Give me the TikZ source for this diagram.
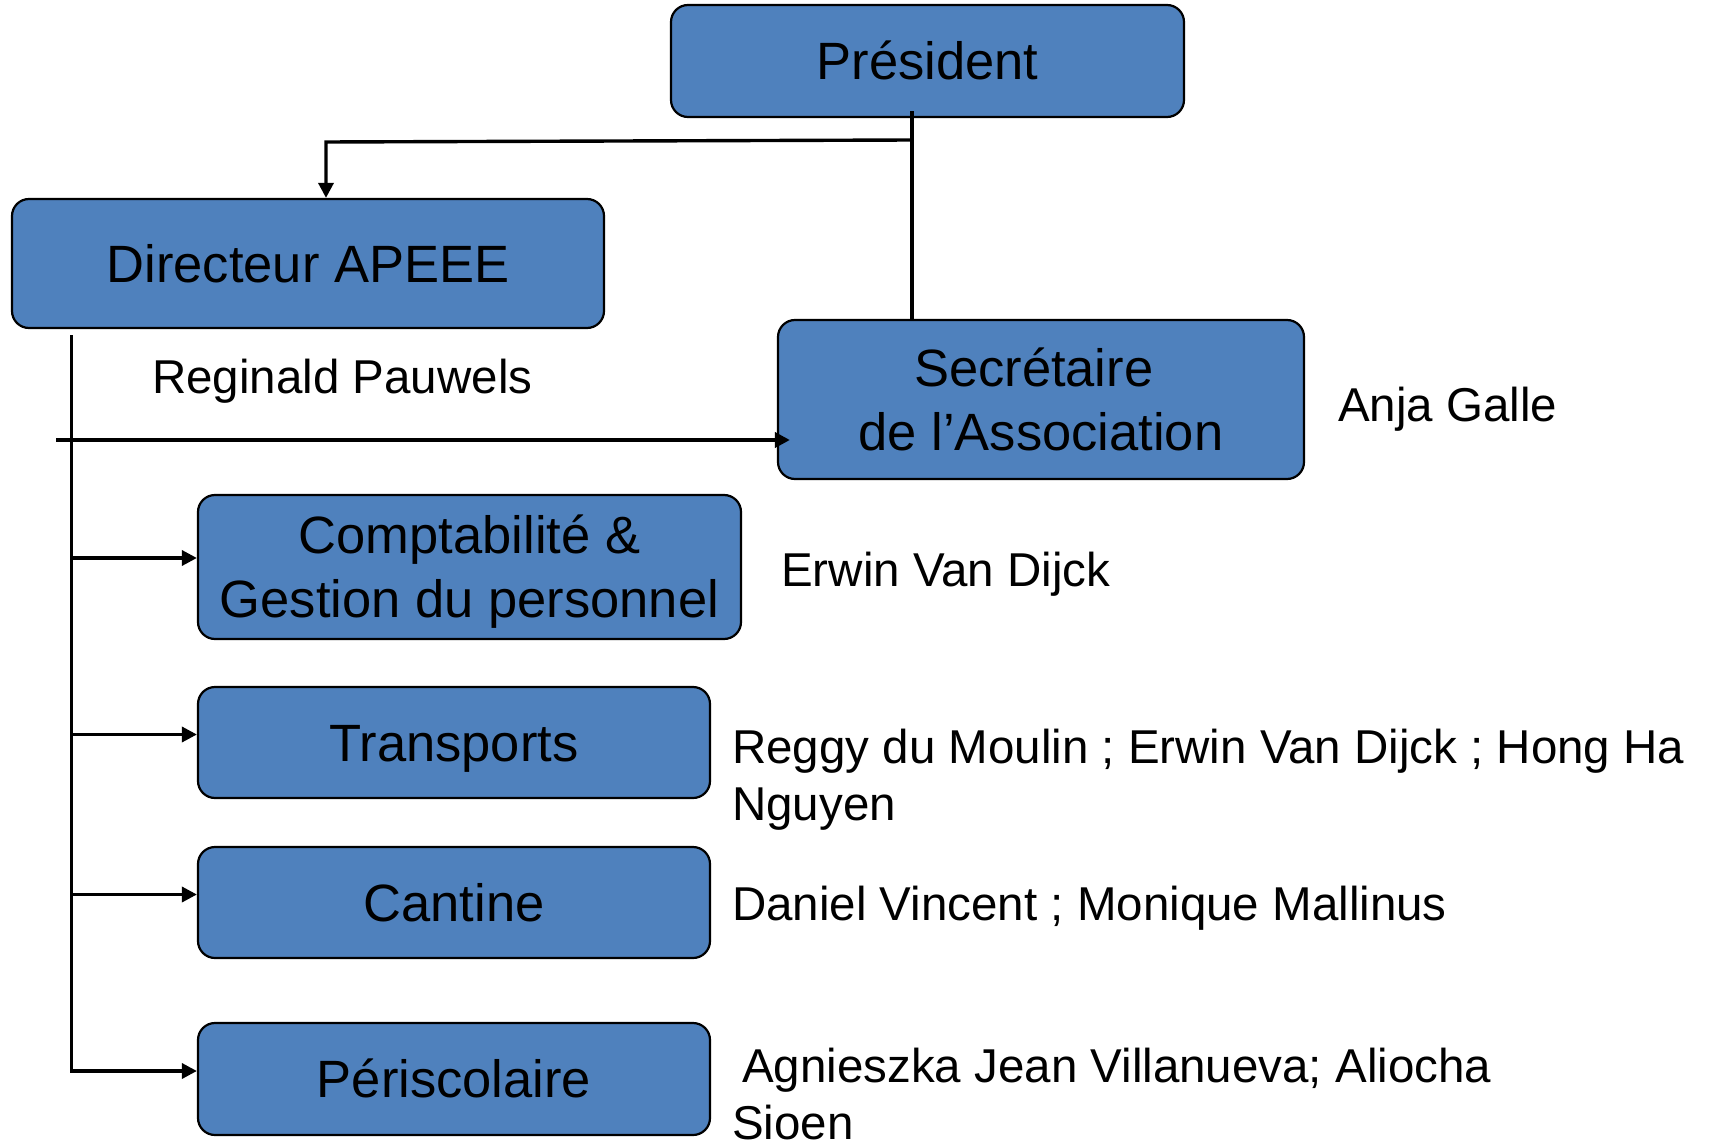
\documentclass[tikz,border=0pt]{standalone}
\usepackage{fontspec}
\setmainfont{Liberation Sans}
\usetikzlibrary{arrows.meta}
\definecolor{boxblue}{RGB}{79,129,189}
\newcommand{\boxfont}{\fontsize{52.5}{64}\selectfont}
\newcommand{\namefont}{\fontsize{47.5}{57}\selectfont}
\newcommand{\onel}[1]{\raisebox{-18.8pt}[0pt][0pt]{#1}}
\newcommand{\twol}[1]{\raisebox{-50.8pt}[0pt][0pt]{\begin{tabular}[b]{@{}c@{}}#1\end{tabular}}}
\newcommand{\twoname}[1]{\begin{tabular}[t]{@{}l@{}}#1\end{tabular}}
\begin{document}
\begin{tikzpicture}[x=1pt,y=-1pt,
  orgbox/.style={draw=black, line width=2.2pt, fill=boxblue, rounded corners=17pt, inner sep=0pt, font=\boxfont},
  person/.style={anchor=base west, inner sep=0pt, font=\namefont},
  conn/.style={line width=3.4pt},
  arr/.style={conn, -{Triangle[length=15pt,width=15pt]}}]
\useasboundingbox (0,0) rectangle (1711,1142);

% boxes
\node[orgbox, minimum width=513pt, minimum height=112pt] (P) at (927.5,61) {\onel{Président}};
\node[orgbox, minimum width=592pt, minimum height=129pt] (D) at (308,263.5) {\onel{Directeur APEEE}};
\node[orgbox, minimum width=526pt, minimum height=159pt] (S) at (1041,399.5) {\twol{Secrétaire\kern14.6pt\\de l’Association}};
\node[orgbox, minimum width=543pt, minimum height=144pt] (C) at (469.5,567) {\twol{Comptabilité \&\\Gestion du personnel}};
\node[orgbox, minimum width=512pt, minimum height=111pt] (T) at (454,742.5) {\onel{Transports}};
\node[orgbox, minimum width=512pt, minimum height=111pt] (K) at (454,902.5) {\onel{Cantine}};
\node[orgbox, minimum width=512pt, minimum height=112pt] (Q) at (454,1079) {\onel{Périscolaire}};

% names
\node[person] (nD) at (152,393) {Reginald Pauwels};
\node[person] (nS) at (1338,421) {Anja Galle};
\node[person] (nC) at (781,586) {Erwin Van Dijck};
\node[person] (nT) at (732,763) {\twoname{Reggy du Moulin ; Erwin Van Dijck ; Hong Ha\\Nguyen}};
\node[person] (nK) at (732,920) {Daniel Vincent ; Monique Mallinus};
\node[person] (nQ) at (732,1082) {\twoname{\hspace{10pt}Agnieszka Jean Villanueva; Aliocha\\Sioen}};

% connectors
\coordinate (jP) at (912,140);
\coordinate (jD) at (326,142);
\draw[conn] ([yshift=7pt]jP |- P.south) -- (jP |- S.north);
\draw[arr] (jP) -- (jD) -- (jD |- D.north);

\coordinate (t0) at (71.5,335);
\coordinate (s0) at (56,440);
\draw[arr, line width=3.8pt] (s0) -- ([xshift=13pt]S.west |- s0);
\draw[arr] ([yshift=9pt]C.west -| t0) -- ([yshift=9pt]C.west);
\draw[arr] ([yshift=8pt]T.west -| t0) -- ([yshift=8pt]T.west);
\draw[arr] ([yshift=8pt]K.west -| t0) -- ([yshift=8pt]K.west);
\draw[arr] (t0) |- ([yshift=8pt]Q.west);
\end{tikzpicture}
\end{document}
